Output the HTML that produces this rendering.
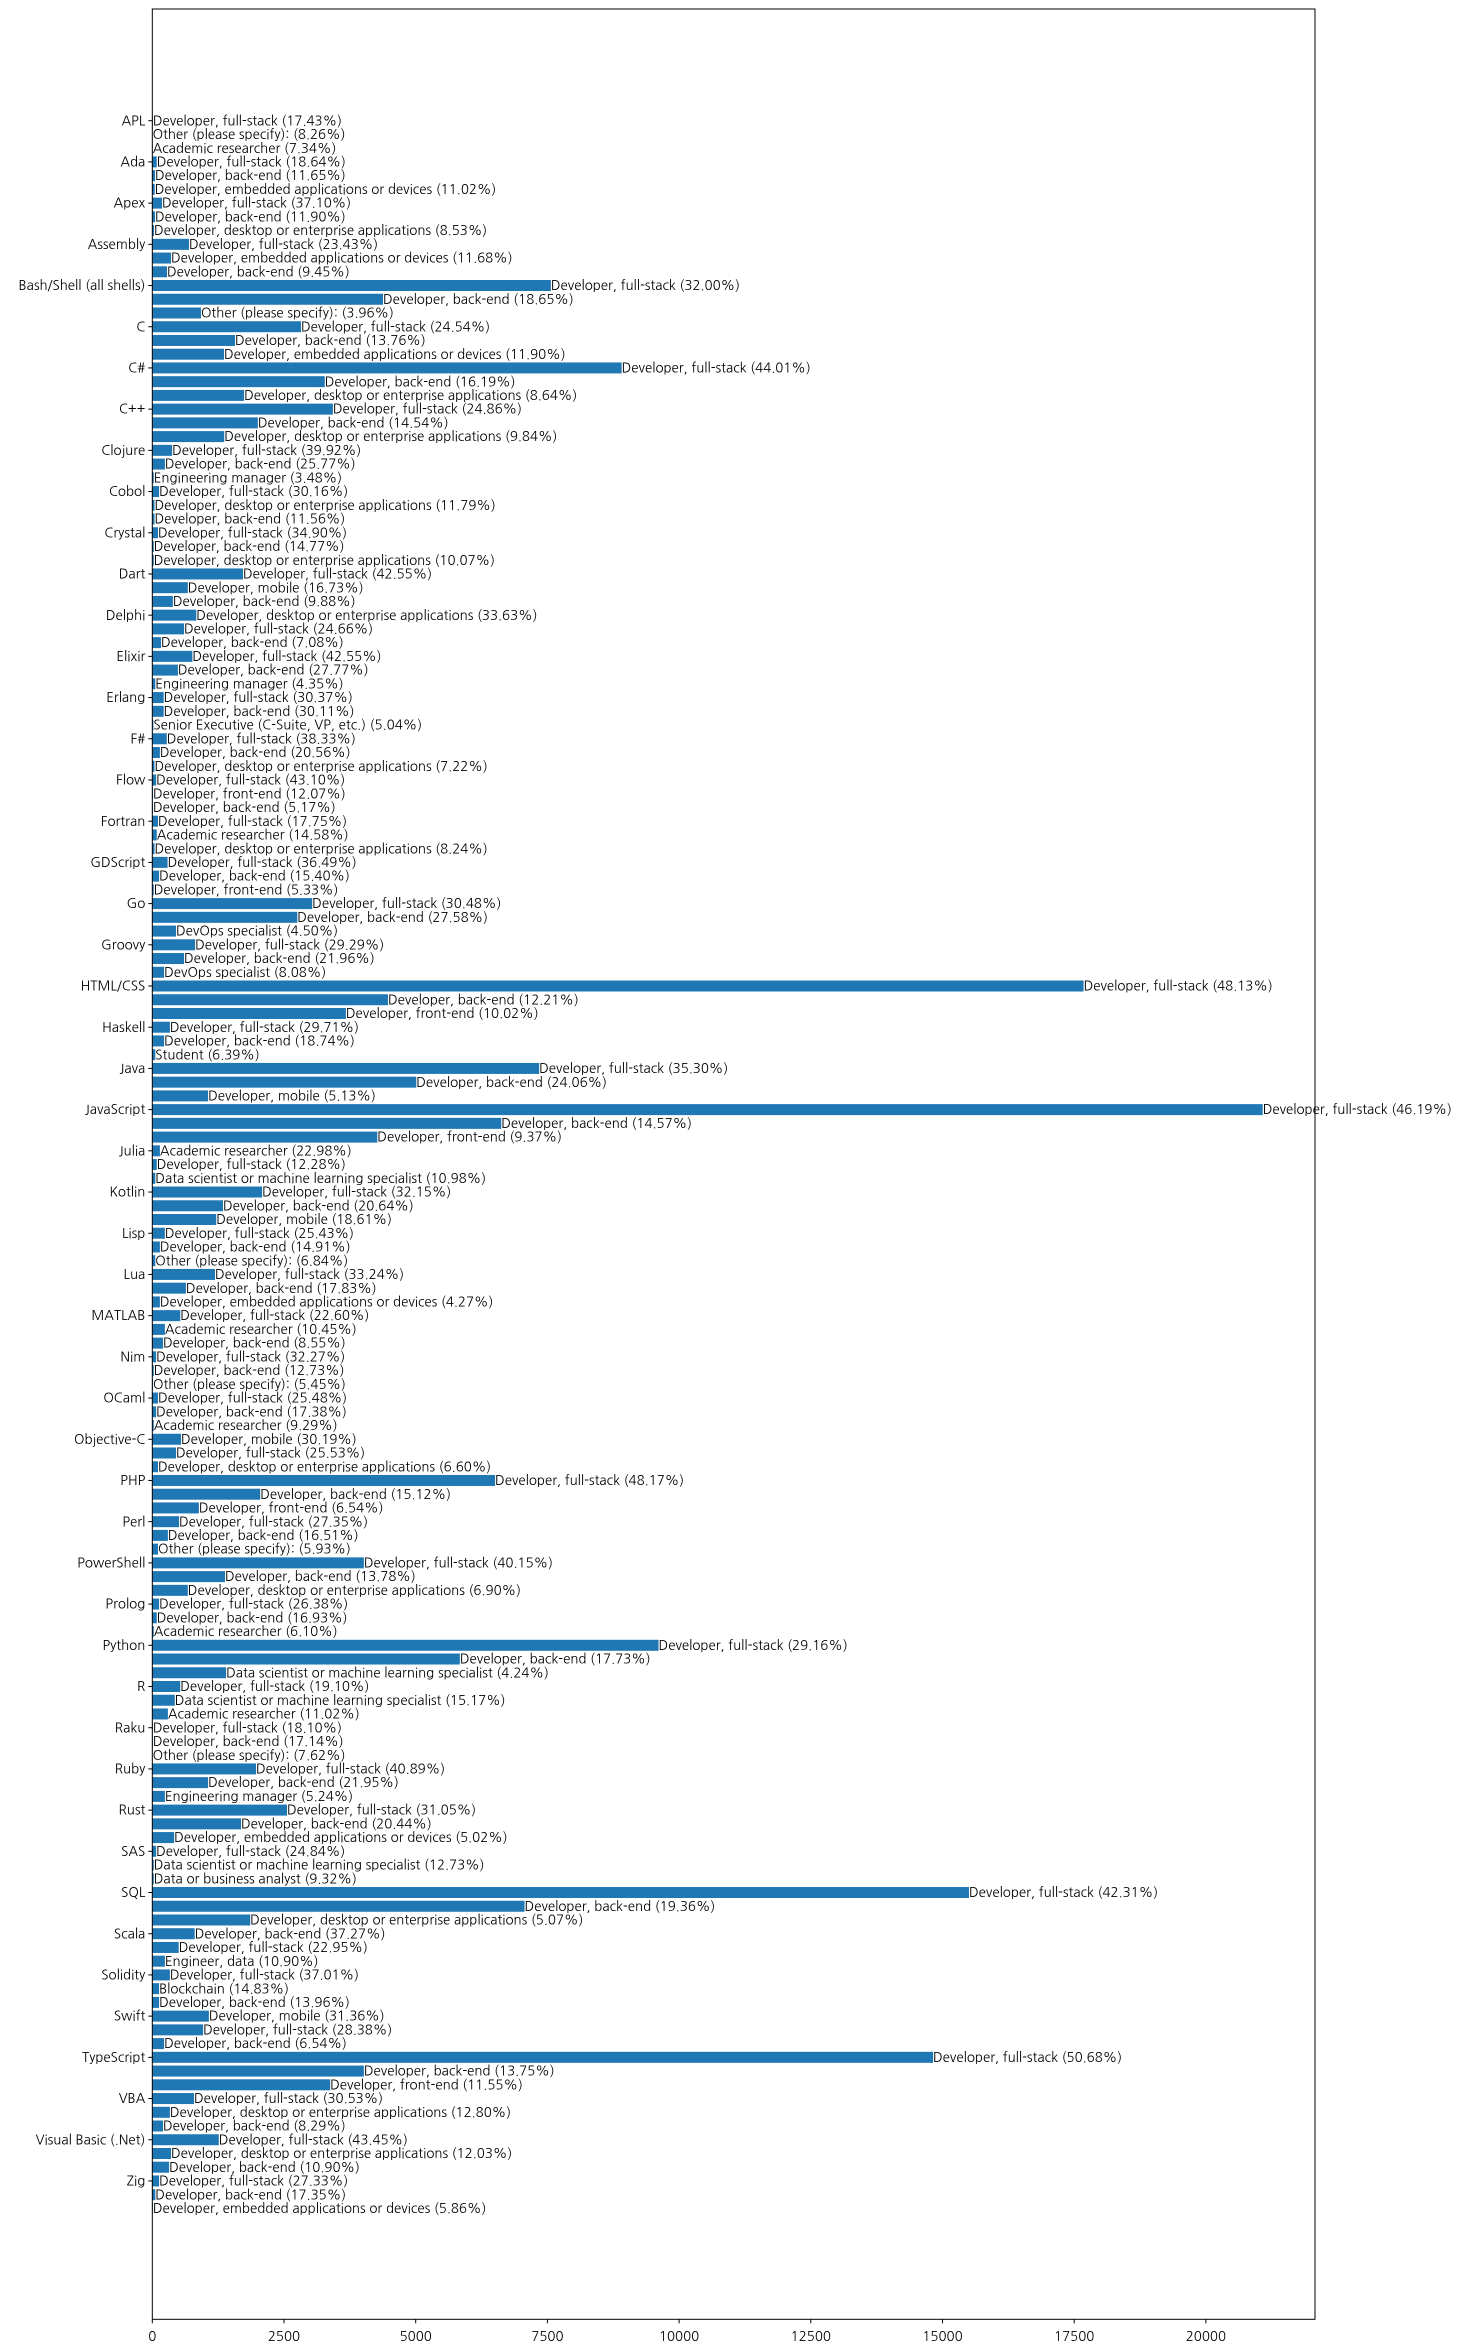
<!DOCTYPE html>
<html><head><meta charset="utf-8">
<style>
html,body{margin:0;padding:0;background:#fff;}
svg{display:block;}
text{font-family:"NanumGothic","Liberation Sans","Noto Sans CJK KR",sans-serif;font-size:13.3px;fill:#000;}
</style></head>
<body>
<svg id="chart" width="1467" height="2352" viewBox="0 0 1467 2352" xmlns="http://www.w3.org/2000/svg">
<rect x="0" y="0" width="1467" height="2352" fill="#fff"/>
<g id="bars"></g>
<g id="labels"></g>
<g id="yaxis"></g>
<g id="xaxis"></g>
<rect x="152.3" y="9" width="1162.7" height="2310.3" fill="none" stroke="#000" stroke-width="1"/>
</svg>
<script>
const languages = ["APL","Ada","Apex","Assembly","Bash/Shell (all shells)","C","C#","C++","Clojure","Cobol","Crystal","Dart","Delphi","Elixir","Erlang","F#","Flow","Fortran","GDScript","Go","Groovy","HTML/CSS","Haskell","Java","JavaScript","Julia","Kotlin","Lisp","Lua","MATLAB","Nim","OCaml","Objective-C","PHP","Perl","PowerShell","Prolog","Python","R","Raku","Ruby","Rust","SAS","SQL","Scala","Solidity","Swift","TypeScript","VBA","Visual Basic (.Net)","Zig"];
const roleNames = {FS:"Developer, full-stack",BE:"Developer, back-end",FE:"Developer, front-end",EM:"Developer, embedded applications or devices",DK:"Developer, desktop or enterprise applications",MO:"Developer, mobile",OT:"Other (please specify):",AR:"Academic researcher",MG:"Engineering manager",SE:"Senior Executive (C-Suite, VP, etc.)",DO:"DevOps specialist",ST:"Student",DS:"Data scientist or machine learning specialist",DA:"Data or business analyst",ED:"Engineer, data",BC:"Blockchain"};
const roles = ["FS","OT","AR","FS","BE","EM","FS","BE","DK","FS","EM","BE","FS","BE","OT","FS","BE","EM","FS","BE","DK","FS","BE","DK","FS","BE","MG","FS","DK","BE","FS","BE","DK","FS","MO","BE","DK","FS","BE","FS","BE","MG","FS","BE","SE","FS","BE","DK","FS","FE","BE","FS","AR","DK","FS","BE","FE","FS","BE","DO","FS","BE","DO","FS","BE","FE","FS","BE","ST","FS","BE","MO","FS","BE","FE","AR","FS","DS","FS","BE","MO","FS","BE","OT","FS","BE","EM","FS","AR","BE","FS","BE","OT","FS","BE","AR","MO","FS","DK","FS","BE","FE","FS","BE","OT","FS","BE","DK","FS","BE","AR","FS","BE","DS","FS","DS","AR","FS","BE","OT","FS","BE","MG","FS","BE","EM","FS","DS","DA","FS","BE","DK","BE","FS","ED","FS","BC","BE","MO","FS","BE","FS","BE","FE","FS","DK","BE","FS","DK","BE","FS","BE","EM"];
const pcts = [17.43,8.26,7.34,18.64,11.65,11.02,37.10,11.90,8.53,23.43,11.68,9.45,32.00,18.65,3.96,24.54,13.76,11.90,44.01,16.19,8.64,24.86,14.54,9.84,39.92,25.77,3.48,30.16,11.79,11.56,34.90,14.77,10.07,42.55,16.73,9.88,33.63,24.66,7.08,42.55,27.77,4.35,30.37,30.11,5.04,38.33,20.56,7.22,43.10,12.07,5.17,17.75,14.58,8.24,36.49,15.40,5.33,30.48,27.58,4.50,29.29,21.96,8.08,48.13,12.21,10.02,29.71,18.74,6.39,35.30,24.06,5.13,46.19,14.57,9.37,22.98,12.28,10.98,32.15,20.64,18.61,25.43,14.91,6.84,33.24,17.83,4.27,22.60,10.45,8.55,32.27,12.73,5.45,25.48,17.38,9.29,30.19,25.53,6.60,48.17,15.12,6.54,27.35,16.51,5.93,40.15,13.78,6.90,26.38,16.93,6.10,29.16,17.73,4.24,19.10,15.17,11.02,18.10,17.14,7.62,40.89,21.95,5.24,31.05,20.44,5.02,24.84,12.73,9.32,42.31,19.36,5.07,37.27,22.95,10.90,37.01,14.83,13.96,31.36,28.38,6.54,50.68,13.75,11.55,30.53,12.80,8.29,43.45,12.03,10.90,27.33,17.35,5.86];
const counts = [10,5,5,84,51,46,184,51,32,697,355,279,7566,4379,924,2822,1570,1361,8909,3274,1742,3428,2004,1365,376,239,28,129,42,42,108,28,28,1721,674,391,835,602,165,761,486,57,216,216,21,275,144,42,72,13,13,108,85,42,290,129,28,3035,2752,450,812,602,224,17678,4474,3675,334,224,57,7343,5011,1059,21078,6624,4271,144,85,57,2084,1342,1213,239,144,57,1190,638,144,530,239,203,72,28,13,108,72,28,545,450,108,6506,2048,884,507,296,108,4016,1380,674,129,85,28,9610,5838,1401,530,427,296,10,10,5,1968,1059,239,2557,1684,414,72,28,28,15503,7066,1858,805,501,239,334,129,129,1074,964,224,14820,4016,3376,791,334,203,1262,355,319,129,57,10];
const xTicks = [0,2500,5000,7500,10000,12500,15000,17500,20000];

const NS = "http://www.w3.org/2000/svg";
const X0 = 152.3, PXPER = 0.05268;
function xs(v){ return X0 + v*PXPER; }
function ys(i){ return 120.7 + i*13.735; }
const BH = 11;
const gb = document.getElementById('bars');
const gl = document.getElementById('labels');
const gy = document.getElementById('yaxis');
const gx = document.getElementById('xaxis');

counts.forEach((c,i)=>{
  const r = document.createElementNS(NS,'rect');
  r.setAttribute('x', X0);
  r.setAttribute('y', ys(i)-BH/2);
  r.setAttribute('width', Math.max(0, xs(c)-X0));
  r.setAttribute('height', BH);
  r.setAttribute('fill', '#1f77b4');
  
  
  gb.appendChild(r);
  const t = document.createElementNS(NS,'text');
  t.setAttribute('x', xs(c));
  t.setAttribute('y', ys(i)+4.6);
  t.textContent = roleNames[roles[i]] + ' (' + pcts[i].toFixed(2) + '%)';
  
  
  gl.appendChild(t);
});

languages.forEach((l,k)=>{
  const y = ys(k*3);
  const tk = document.createElementNS(NS,'line');
  tk.setAttribute('x1', X0-4); tk.setAttribute('x2', X0);
  tk.setAttribute('y1', y); tk.setAttribute('y2', y);
  tk.setAttribute('stroke', '#000');
  
  
  gy.appendChild(tk);
  const t = document.createElementNS(NS,'text');
  t.setAttribute('x', X0-7);
  t.setAttribute('y', y+4.6);
  t.setAttribute('text-anchor', 'end');
  t.textContent = l;
  
  
  gy.appendChild(t);
});

xTicks.forEach(v=>{
  const x = xs(v);
  const tk = document.createElementNS(NS,'line');
  tk.setAttribute('x1', x); tk.setAttribute('x2', x);
  tk.setAttribute('y1', 2319.3); tk.setAttribute('y2', 2323.3);
  tk.setAttribute('stroke', '#000');
  
  
  gx.appendChild(tk);
  const t = document.createElementNS(NS,'text');
  t.setAttribute('x', x);
  t.setAttribute('y', 2341);
  t.setAttribute('text-anchor', 'middle');
  t.textContent = String(v);
  
  
  gx.appendChild(t);
});
</script>
</body></html>
